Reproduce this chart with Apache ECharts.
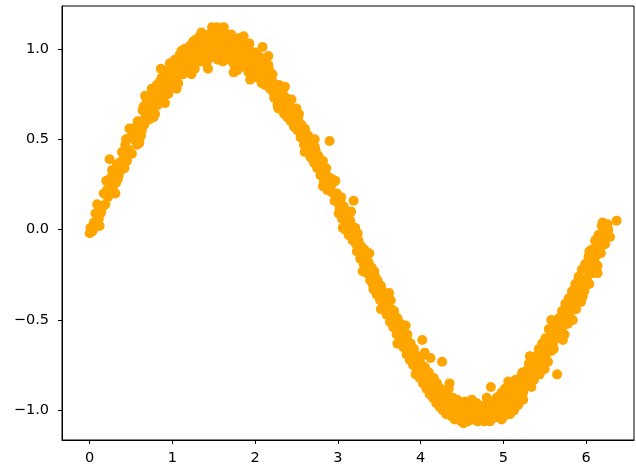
<!DOCTYPE html>
<html><head><meta charset="utf-8">
<script src="https://cdn.jsdelivr.net/npm/echarts@6/dist/echarts.min.js"></script>
<style>html,body{margin:0;padding:0;background:#fff}#c{width:636px;height:469px}</style>
</head><body><div id="c"></div>
<script>
const xTicks = [0, 1, 2, 3, 4, 5, 6];
const yTicks = [-1.0, -0.5, 0.0, 0.5, 1.0];
const xs = [
0.00,0.01,0.03,0.05,0.08, 0.09,0.11,0.13,0.16,0.19, 0.21,0.22,0.24,0.26,0.28, 0.30,0.32,0.34,0.36,0.39,
0.41,0.43,0.45,0.47,0.49, 0.51,0.53,0.55,0.57,0.59, 0.61,0.62,0.64,0.66,0.68, 0.70,0.72,0.74,0.76,0.78,
0.80,0.82,0.84,0.86,0.88, 0.90,0.92,0.94,0.96,0.98, 1.00,1.02,1.04,1.06,1.08, 1.10,1.12,1.14,1.16,1.18,
1.20,1.22,1.24,1.26,1.28, 1.30,1.32,1.34,1.36,1.38, 1.40,1.43,1.44,1.46,1.48, 1.50,1.52,1.54,1.56,1.58,
1.60,1.62,1.64,1.66,1.68, 1.70,1.72,1.74,1.76,1.78, 1.80,1.82,1.84,1.86,1.88, 1.90,1.92,1.94,1.96,1.98,
2.00,2.02,2.04,2.06,2.09, 2.10,2.12,2.14,2.16,2.18, 2.20,2.22,2.24,2.26,2.28, 2.30,2.32,2.34,2.36,2.38,
2.40,2.42,2.44,2.46,2.48, 2.50,2.52,2.54,2.56,2.58, 2.60,2.62,2.64,2.66,2.68, 2.70,2.72,2.74,2.76,2.78,
2.80,2.82,2.84,2.86,2.88, 2.90,2.91,2.93,2.95,2.98, 3.00,3.02,3.04,3.06,3.08, 3.10,3.12,3.14,3.17,3.19,
3.20,3.22,3.24,3.26,3.28, 3.30,3.32,3.34,3.36,3.38, 3.40,3.42,3.44,3.46,3.48, 3.50,3.52,3.54,3.56,3.58,
3.60,3.62,3.64,3.66,3.68, 3.70,3.72,3.74,3.76,3.78, 3.80,3.82,3.84,3.86,3.88, 3.90,3.92,3.94,3.96,3.98,
4.00,4.02,4.04,4.06,4.08, 4.10,4.12,4.14,4.16,4.18, 4.20,4.22,4.24,4.26,4.28, 4.30,4.32,4.35,4.36,4.38,
4.40,4.42,4.44,4.46,4.48, 4.50,4.52,4.54,4.56,4.58, 4.60,4.62,4.64,4.66,4.68, 4.70,4.72,4.74,4.76,4.78,
4.80,4.82,4.85,4.86,4.88, 4.90,4.92,4.94,4.96,4.98, 5.00,5.02,5.04,5.06,5.08, 5.10,5.12,5.14,5.16,5.18,
5.20,5.22,5.24,5.26,5.28, 5.30,5.32,5.34,5.36,5.38, 5.40,5.42,5.44,5.46,5.48, 5.50,5.52,5.54,5.56,5.58,
5.60,5.62,5.65,5.66,5.68, 5.70,5.72,5.74,5.76,5.78, 5.80,5.82,5.84,5.86,5.88, 5.90,5.92,5.94,5.96,5.98,
6.00,6.02,6.04,6.06,6.08, 6.10,6.12,6.14,6.16,6.18, 6.19,6.22,6.24,6.26,6.29,6.37
];
const ys = [
-0.02,0.01,-0.01,0.04,0.03, 0.14,0.06,0.09,0.13,0.14, 0.22,0.18,0.39,0.29,0.24, 0.31,0.26,0.28,0.37,0.43,
0.40,0.47,0.38,0.44,0.51, 0.42,0.50,0.55,0.47,0.53, 0.60,0.52,0.66,0.58,0.63, 0.70,0.61,0.73,0.67,0.71,
0.77,0.69,0.75,0.89,0.80, 0.74,0.84,0.79,0.87,0.83, 0.90,0.82,0.88,0.85,0.93, 0.87,0.96,0.91,0.89,0.99,
0.94,1.02,0.92,0.97,1.05, 0.95,1.00,0.98,1.04,0.96, 1.01,0.89,1.06,0.99,1.12, 1.03,0.97,1.12,1.05,1.00,
1.10,0.96,1.04,1.08,0.99, 1.02,0.93,1.06,0.98,0.88, 1.01,0.94,0.97,1.03,0.90, 0.95,0.87,0.99,0.91,0.85,
0.93,0.88,0.96,0.84,1.01, 0.89,0.80,0.86,0.91,0.78, 0.83,0.76,0.80,0.72,0.77, 0.74,0.68,0.78,0.70,0.66,
0.69,0.63,0.72,0.61,0.64, 0.59,0.62,0.55,0.58,0.52, 0.56,0.48,0.52,0.45,0.50, 0.42,0.46,0.38,0.41,0.35,
0.33,0.38,0.30,0.34,0.27, 0.49,0.24,0.28,0.20,0.17, 0.15,0.12,0.18,0.08,0.11, 0.04,0.07,-0.01,0.02,0.16,
-0.05,-0.08,-0.02,-0.12,-0.09, -0.16,-0.11,-0.20,-0.14,-0.22, -0.25,-0.30,-0.23,-0.33,-0.28, -0.36,-0.31,-0.40,-0.35,-0.44,
-0.42,-0.47,-0.39,-0.50,-0.45, -0.53,-0.49,-0.57,-0.52,-0.62, -0.60,-0.65,-0.58,-0.68,-0.63, -0.70,-0.66,-0.74,-0.71,-0.78,
-0.74,-0.61,-0.80,-0.77,-0.83, -0.79,-0.71,-0.86,-0.82,-0.89, -0.85,-0.92,-0.88,-0.73,-0.95, -0.90,-0.97,-0.85,-0.93,-1.00,
-0.96,-1.02,-0.94,-0.99,-1.04, -0.97,-1.01,-0.95,-1.03,-0.99, -1.02,-0.97,-1.05,-1.00,-0.96, -1.03,-0.99,-1.05,-1.01,-0.97,
-1.04,-0.98,-0.87,-1.02,-0.95, -1.00,-0.93,-0.97,-1.03,-0.90, -0.96,-0.88,-0.99,-0.92,-1.02, -0.90,-0.85,-0.94,-0.88,-0.97,
-0.86,-0.81,-0.90,-0.84,-0.78, -0.83,-0.76,-0.87,-0.79,-0.73, -0.77,-0.71,-0.80,-0.68,-0.74, -0.70,-0.64,-0.73,-0.61,-0.67,
-0.63,-0.57,-0.80,-0.59,-0.53, -0.55,-0.49,-0.58,-0.46,-0.52, -0.47,-0.41,-0.50,-0.38,-0.44, -0.37,-0.31,-0.40,-0.28,-0.34,
-0.29,-0.22,-0.30,-0.18,-0.24, -0.17,-0.11,-0.20,-0.08,-0.13, 0.02,-0.06,-0.01,0.03,-0.04,0.05
];
const extraPoints = [
[0.04,0.00],[0.07,0.09],[0.14,0.10],[0.17,0.20],[0.25,0.20],[0.27,0.33],[0.33,0.36],[0.35,0.30],[0.38,0.33],
[0.44,0.50],[0.46,0.41],[0.52,0.56],[0.56,0.49],[0.58,0.60],[0.63,0.55],[0.65,0.68],[0.69,0.71],[0.71,0.66],
[0.75,0.78],[0.77,0.62],[0.81,0.80],[0.83,0.72],[0.87,0.84],[0.89,0.76],[0.93,0.88],[0.95,0.75],[0.97,0.92],
[1.01,0.85],[1.03,0.94],[1.07,0.81],[1.09,0.97],[1.13,0.86],[1.15,1.00],[1.19,0.90],[1.21,0.97],[1.25,1.04],
[1.27,0.89],[1.31,1.06],[1.33,0.93],[1.37,1.08],[1.39,0.94],[1.42,1.05],[1.45,0.95],[1.47,1.09],[1.51,1.10],
[1.53,1.02],[1.55,0.94],[1.57,1.11],[1.59,1.06],[1.61,0.93],[1.63,1.09],[1.65,1.00],[1.67,1.05],[1.69,0.95],
[1.71,1.08],[1.73,0.99],[1.75,0.91],[1.77,1.04],[1.79,0.96],[1.81,1.06],[1.83,0.90],[1.85,1.00],[1.87,0.93],
[1.89,1.02],[1.91,0.91],[1.93,1.03],[1.95,0.86],[1.97,0.96],[1.99,0.88],[2.01,0.98],[2.03,0.84],[2.05,0.91],
[2.07,0.95],[2.11,0.85],[2.13,0.93],[2.15,0.82],[2.17,0.88],[2.19,0.83],[2.21,0.86],[2.23,0.73],[2.25,0.79],
[2.27,0.69],[2.29,0.80],[2.31,0.71],[2.33,0.76],[2.35,0.64],[2.37,0.73],[2.39,0.62],[2.41,0.70],[2.43,0.60],
[2.45,0.66],[2.47,0.57],[2.49,0.63],[2.51,0.55],[2.53,0.64],[2.55,0.51],[2.57,0.56],[2.59,0.47],[2.61,0.54],
[2.63,0.44],[2.65,0.50],[2.67,0.40],[2.69,0.46],[2.71,0.37],[2.73,0.44],[2.75,0.34],[2.77,0.40],[2.79,0.30],
[2.81,0.36],[2.83,0.26],[2.85,0.31],[2.87,0.22],[2.89,0.29],[2.92,0.21],[2.94,0.26],[2.96,0.16],[2.99,0.20],
[3.01,0.09],[3.03,0.16],[3.05,0.06],[3.07,0.13],[3.09,0.00],[3.11,0.09],[3.13,-0.03],[3.15,0.05],[3.18,-0.06],
[3.21,0.01],[3.23,-0.12],[3.25,-0.06],[3.27,-0.16],[3.29,-0.10],[3.31,-0.19],[3.33,-0.13],[3.35,-0.24],[3.37,-0.18],
[3.39,-0.28],[3.41,-0.21],[3.43,-0.33],[3.45,-0.26],[3.47,-0.36],[3.49,-0.30],[3.51,-0.39],[3.53,-0.33],[3.55,-0.43],
[3.57,-0.37],[3.59,-0.47],[3.61,-0.40],[3.63,-0.51],[3.65,-0.44],[3.67,-0.54],[3.69,-0.48],[3.71,-0.58],[3.73,-0.51],
[3.75,-0.61],[3.77,-0.55],[3.79,-0.65],[3.81,-0.58],[3.83,-0.69],[3.85,-0.62],[3.87,-0.72],[3.89,-0.65],[3.91,-0.75],
[3.93,-0.69],[3.95,-0.79],[3.97,-0.72],[3.99,-0.82],[4.01,-0.70],[4.03,-0.85],[4.05,-0.76],[4.07,-0.88],[4.09,-0.80],
[4.11,-0.91],[4.13,-0.83],[4.15,-0.93],[4.17,-0.86],[4.19,-0.96],[4.21,-0.88],[4.23,-0.98],[4.25,-0.90],[4.27,-1.00],
[4.29,-0.92],[4.31,-1.02],[4.33,-0.94],[4.37,-1.03],[4.39,-0.93],[4.41,-1.05],[4.43,-0.97],[4.45,-1.04],[4.47,-0.95],
[4.49,-1.06],[4.51,-0.98],[4.53,-1.05],[4.55,-0.97],[4.57,-1.06],[4.59,-1.00],[4.61,-1.05],[4.63,-0.99],[4.65,-1.04],
[4.67,-1.02],[4.69,-1.06],[4.71,-0.98],[4.73,-1.04],[4.75,-0.99],[4.77,-1.06],[4.79,-1.00],[4.81,-1.03],[4.83,-0.96],
[4.84,-1.06],[4.87,-0.99],[4.89,-1.04],[4.91,-0.96],[4.93,-1.02],[4.95,-0.92],[4.97,-0.99],[4.99,-0.94],[5.01,-1.03],
[5.03,-0.93],[5.05,-0.98],[5.07,-0.87],[5.09,-0.96],[5.11,-0.94],[5.13,-1.00],[5.15,-0.83],[5.17,-0.92],[5.19,-0.86],
[5.21,-0.93],[5.23,-0.79],[5.25,-0.88],[5.27,-0.81],[5.29,-0.86],[5.31,-0.74],[5.33,-0.82],[5.35,-0.75],[5.37,-0.83],
[5.39,-0.70],[5.41,-0.78],[5.43,-0.66],[5.45,-0.75],[5.47,-0.63],[5.49,-0.72],[5.51,-0.60],[5.53,-0.68],[5.55,-0.55],
[5.57,-0.64],[5.59,-0.57],[5.61,-0.66],[5.63,-0.52],[5.64,-0.60],[5.67,-0.49],[5.69,-0.56],[5.71,-0.45],[5.73,-0.53],
[5.75,-0.41],[5.77,-0.49],[5.79,-0.38],[5.81,-0.45],[5.83,-0.34],[5.85,-0.43],[5.87,-0.30],[5.89,-0.38],[5.91,-0.26],
[5.93,-0.35],[5.95,-0.22],[5.97,-0.31],[5.99,-0.19],[6.01,-0.27],[6.03,-0.15],[6.05,-0.23],[6.07,-0.11],[6.09,-0.18],
[6.11,-0.06],[6.13,-0.14],[6.15,-0.03],[6.17,-0.10],[6.21,0.01],[6.23,-0.08],[6.25,-0.03],[6.27,0.00]
];
const edgePoints = [
[0.12,0.02],[0.20,0.27],[0.31,0.20],[0.42,0.34],[0.48,0.56],[0.60,0.48],[0.67,0.74],[0.79,0.64],[0.85,0.82],
[0.91,0.70],[1.05,0.78],[1.11,0.99],[1.23,0.86],[1.35,1.09],[1.41,0.92],[1.49,1.07],[1.62,1.12],[1.74,0.87],
[1.86,1.07],[1.94,0.83],[2.08,0.81],[2.16,0.96],[2.28,0.67],[2.36,0.79],[2.50,0.67],[2.60,0.43],[2.72,0.50],
[2.82,0.24],[2.97,0.27],[3.06,0.01],[3.16,0.10],[3.30,-0.23],[3.38,-0.13],[3.52,-0.44],[3.62,-0.35],[3.72,-0.63],
[3.82,-0.53],[3.94,-0.80],[4.05,-0.68],[4.18,-0.93],[4.34,-0.88],[4.52,-1.07],[4.62,-0.94],[4.80,-0.93],[4.98,-1.05],
[5.06,-0.84],[5.24,-0.94],[5.32,-0.70],[5.50,-0.77],[5.58,-0.50],[5.72,-0.61],[5.80,-0.40],[5.96,-0.37],[6.04,-0.12],
[6.14,-0.24],[6.20,0.04]
];
const points = xs.map((x, i) => [x, ys[i]]).concat(extraPoints, edgePoints);
const fmt = v => String(v).replace('-', '\u2212');
const chart = echarts.init(document.getElementById('c'), null, {renderer: 'canvas'});
const axisFont = {color: '#000', fontFamily: 'DejaVu Sans', fontSize: 14.5};
chart.setOption({
  animation: false,
  grid: {left: 62, right: 2, top: 6, bottom: 29, show: true, borderColor: '#000', borderWidth: 1, backgroundColor: '#fff'},
  xAxis: {
    type: 'value', min: -0.335, max: 6.58,
    splitLine: {show: false},
    axisLine: {show: true, onZero: false, lineStyle: {color: '#000', width: 1}},
    axisTick: {show: true, inside: false, length: 4, customValues: xTicks, lineStyle: {color: '#000'}},
    axisLabel: Object.assign({margin: 11, customValues: xTicks, formatter: v => fmt(v)}, axisFont)
  },
  yAxis: {
    type: 'value', min: -1.163, max: 1.237,
    splitLine: {show: false},
    axisLine: {show: true, onZero: false, lineStyle: {color: '#000', width: 1}},
    axisTick: {show: true, inside: false, length: 4, customValues: yTicks, lineStyle: {color: '#000'}},
    axisLabel: Object.assign({margin: 13, customValues: yTicks, formatter: v => fmt(Number(v).toFixed(1))}, axisFont)
  },
  series: [{
    type: 'scatter',
    data: points,
    symbol: 'circle',
    symbolSize: 10,
    itemStyle: {color: '#FFA500', opacity: 1},
    silent: true
  }]
});
</script></body></html>
